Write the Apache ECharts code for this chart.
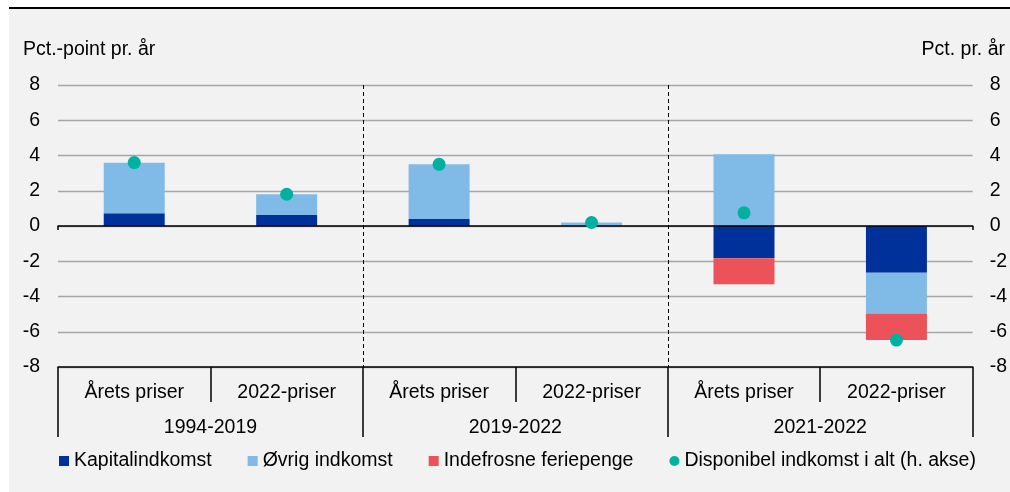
<!DOCTYPE html>
<html>
<head>
<meta charset="utf-8">
<script src="https://cdn.jsdelivr.net/npm/echarts@6/dist/echarts.min.js"></script>
<style>
  html, body { margin: 0; padding: 0; background: #ffffff; }
  #wrap { position: relative; width: 1010px; height: 492px; }
  #bg { position: absolute; left: 9px; top: 7px; width: 1001px; height: 485px; background: #F2F2F2; border-top: 2px solid #000; box-sizing: border-box; }
  #chart { position: absolute; left: 0; top: 0; width: 1010px; height: 492px; }
</style>
</head>
<body>
<div id="wrap"><div id="bg"></div><div id="chart"></div></div>
<script>
const categories = ['Årets priser', '2022-priser', 'Årets priser', '2022-priser', 'Årets priser', '2022-priser'];
const groups = ['1994-2019', '2019-2022', '2021-2022'];
const yTicks = [-8, -6, -4, -2, 0, 2, 4, 6, 8];
const kapitalindkomst = [0.73, 0.62, 0.40, 0.00, -1.83, -2.65];
const ovrigIndkomst = [2.86, 1.18, 3.10, 0.20, 4.07, -2.32];
const indefrosneFeriepenge = [0, 0, 0, 0, -1.48, -1.50];
const disponibelIndkomst = [3.60, 1.80, 3.50, 0.20, 0.75, -6.47];
const seriesNames = ['Kapitalindkomst', 'Øvrig indkomst', 'Indefrosne feriepenge', 'Disponibel indkomst i alt (h. akse)'];
const leftAxisName = 'Pct.-point pr. år';
const rightAxisName = 'Pct. pr. år';

const FONT = "'Liberation Sans', Arial, sans-serif";
const FS = 19.5;
const colors = ['#00319A', '#80BAE6', '#EC525A', '#00B0A0'];

const chart = echarts.init(document.getElementById('chart'), null, { renderer: 'canvas' });
const yMin = yTicks[0], yMax = yTicks[yTicks.length - 1], yStep = yTicks[1] - yTicks[0];

chart.setOption({
  backgroundColor: 'transparent',
  animation: false,
  textStyle: { fontFamily: FONT, color: '#000' },
  title: [
    { text: leftAxisName, left: 23, top: 40, textStyle: { fontFamily: FONT, fontSize: FS, fontWeight: 'normal', color: '#000' }, padding: 0 },
    { text: rightAxisName, right: 5, top: 40, textStyle: { fontFamily: FONT, fontSize: FS, fontWeight: 'normal', color: '#000' }, padding: 0 }
  ],
  legend: {
    left: 59, top: 451,
    itemWidth: 10, itemHeight: 10, itemGap: 36,
    padding: 0,
    textStyle: { fontFamily: FONT, fontSize: FS, color: '#000' },
    data: [
      { name: seriesNames[0], icon: 'rect' },
      { name: seriesNames[1], icon: 'rect' },
      { name: seriesNames[2], icon: 'rect' },
      { name: seriesNames[3], icon: 'circle' }
    ]
  },
  grid: { left: 58, width: 915, top: 85, height: 282, containLabel: false },
  xAxis: [
    {
      type: 'category', data: categories, position: 'bottom', z: 5,
      axisLine: { onZero: false, lineStyle: { color: '#000', width: 1.5 } },
      axisTick: { show: true, length: 35, lineStyle: { color: '#000', width: 1.5 } },
      axisLabel: { margin: 16, fontFamily: FONT, fontSize: FS, color: '#000' },
      splitLine: { show: false }
    },
    {
      type: 'category', data: groups, position: 'bottom', z: 5,
      axisLine: { show: false, onZero: false },
      axisTick: { show: true, length: 70, lineStyle: { color: '#000', width: 1.5 } },
      axisLabel: { margin: 51, fontFamily: FONT, fontSize: FS, color: '#000' },
      splitLine: { show: true, showMinLine: false, showMaxLine: false, lineStyle: { color: '#000', width: 1, type: [4, 3] } }
    },
    {
      type: 'category', data: ['z'], position: 'bottom', z: 6,
      axisLine: { show: true, onZero: true, lineStyle: { color: '#000', width: 1.5 } },
      axisTick: { show: true, length: 4, lineStyle: { color: '#000', width: 1.5 } },
      axisLabel: { show: false },
      splitLine: { show: false }
    }
  ],
  yAxis: [
    {
      type: 'value', min: yMin, max: yMax, interval: yStep, position: 'left',
      axisLine: { show: false }, axisTick: { show: false },
      axisLabel: { margin: 18, fontFamily: FONT, fontSize: FS, color: '#000' },
      splitLine: { show: true, lineStyle: { color: '#A6A6A6', width: 1.3 } }
    },
    {
      type: 'value', min: yMin, max: yMax, interval: yStep, position: 'right',
      axisLine: { show: false }, axisTick: { show: false },
      axisLabel: { margin: 17, fontFamily: FONT, fontSize: FS, color: '#000' },
      splitLine: { show: false }
    }
  ],
  series: [
    { name: seriesNames[0], type: 'bar', stack: 'a', barWidth: '40%', data: kapitalindkomst, itemStyle: { color: colors[0] }, z: 2 },
    { name: seriesNames[1], type: 'bar', stack: 'a', barWidth: '40%', data: ovrigIndkomst, itemStyle: { color: colors[1] }, z: 2 },
    { name: seriesNames[2], type: 'bar', stack: 'a', barWidth: '40%', data: indefrosneFeriepenge, itemStyle: { color: colors[2] }, z: 2 },
    { name: seriesNames[3], type: 'scatter', yAxisIndex: 1, symbolSize: 13, data: disponibelIndkomst, itemStyle: { color: colors[3], opacity: 1 }, z: 10 }
  ]
});
</script>
</body>
</html>
